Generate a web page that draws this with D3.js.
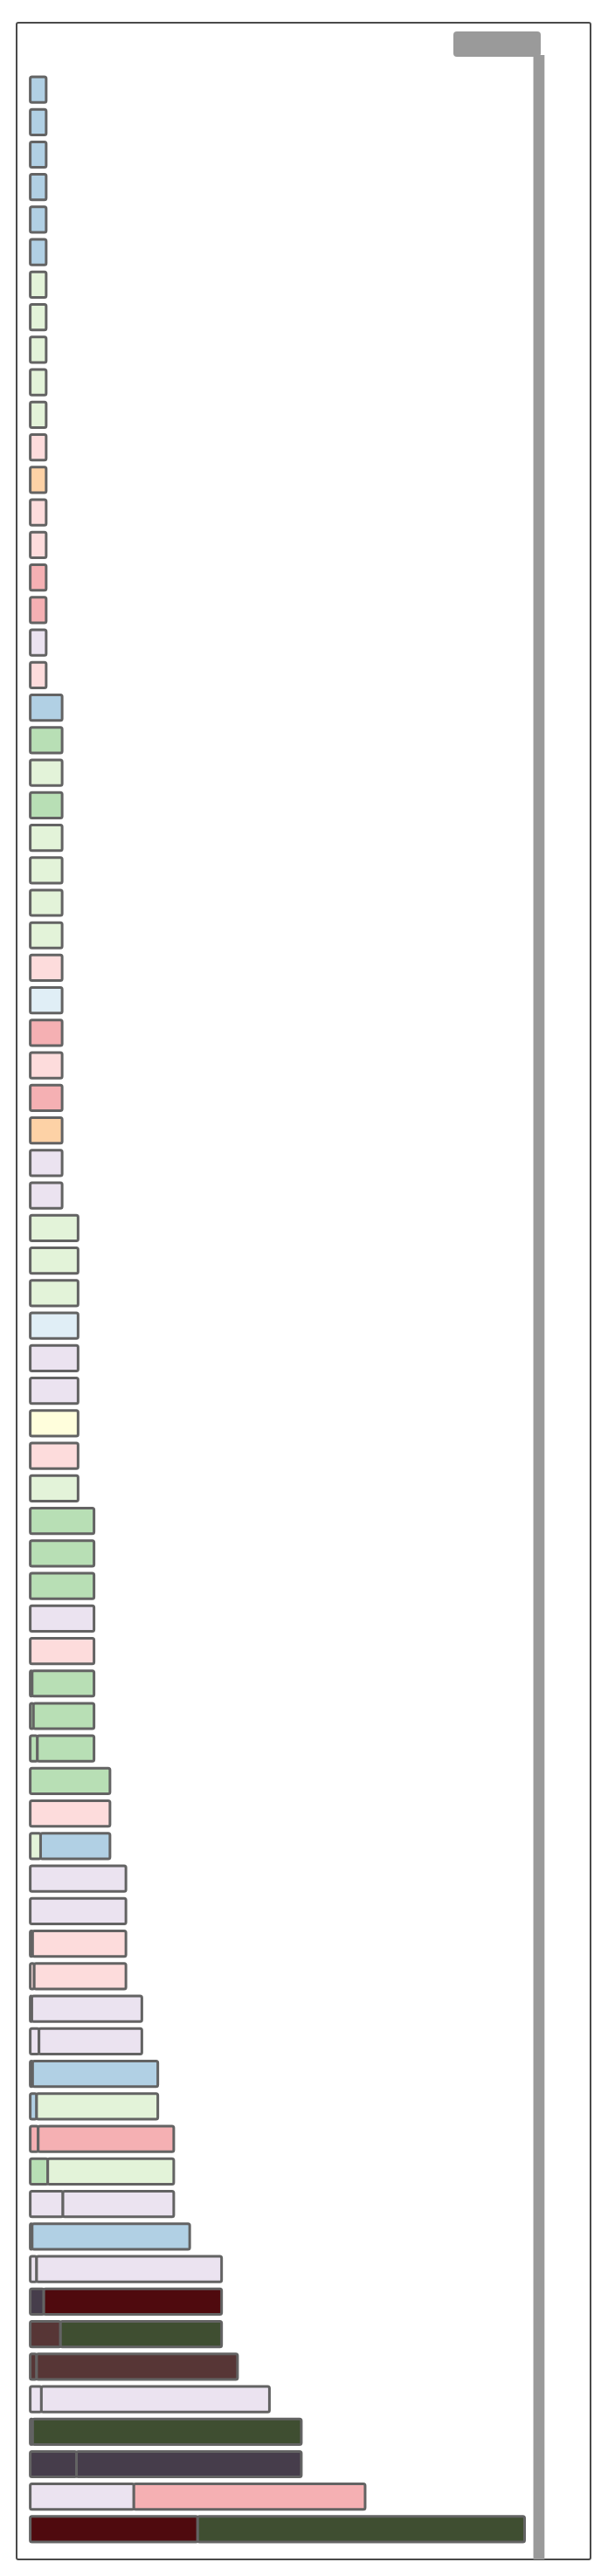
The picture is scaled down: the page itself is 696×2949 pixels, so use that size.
<!DOCTYPE html>
<html>
<head>
<meta charset="utf-8">
<script src="https://cdn.jsdelivr.net/npm/d3@7"></script>
<style>
  body { margin: 0; background: #fff; }
</style>
</head>
<body>
<div id="chart"></div>
<script>
// one row per bar, top to bottom; each bar is at most two stacked pieces
const firstPart = [
  1, 1, 1, 1, 1, 1, 1, 1, 1, 1, 1, 1, 1, 1, 1, 1, 1, 1, 1,
  2, 2, 2, 2, 2, 2, 2, 2, 2, 2, 2, 2, 2, 2, 2, 2,
  3, 3, 3, 3, 3, 3, 3, 3, 3,
  4, 4, 4, 4, 4, 0.12, 0.2, 0.45,
  5, 5, 0.65,
  6, 6, 0.15, 0.25,
  0.1, 0.55,
  0.15, 0.4,
  0.5, 1.1, 2.05,
  0.12,
  0.4, 0.85, 1.9,
  0.4,
  0.7,
  0.15, 2.9,
  6.5,
  10.5
];
const secondPart = [
  0, 0, 0, 0, 0, 0, 0, 0, 0, 0, 0, 0, 0, 0, 0, 0, 0, 0, 0,
  0, 0, 0, 0, 0, 0, 0, 0, 0, 0, 0, 0, 0, 0, 0, 0,
  0, 0, 0, 0, 0, 0, 0, 0, 0,
  0, 0, 0, 0, 0, 3.88, 3.8, 3.55,
  0, 0, 4.35,
  0, 0, 5.85, 5.75,
  6.9, 6.45,
  7.85, 7.6,
  8.5, 7.9, 6.95,
  9.88,
  11.6, 11.15, 10.1,
  12.6,
  14.3,
  16.85, 14.1,
  14.5,
  20.5
];
const firstColor = [
  "blue", "blue", "blue", "blue", "blue", "blue",
  "lgreen", "lgreen", "lgreen", "lgreen", "lgreen",
  "pink", "orange", "pink", "pink", "red", "red", "lav", "pink",
  "blue", "green", "lgreen", "green", "lgreen", "lgreen", "lgreen", "lgreen",
  "pink", "lblue", "red", "pink", "red", "orange", "lav", "lav",
  "lgreen", "lgreen", "lgreen", "lblue", "lav", "lav", "yellow", "pink", "lgreen",
  "green", "green", "green", "lav", "pink", "green", "green", "green",
  "green", "pink", "lgreen",
  "lav", "lav", "pink", "pink",
  "lav", "lav",
  "blue", "blue",
  "red", "green", "lav",
  "blue",
  "lav", "purple", "brown",
  "brown",
  "lav",
  "dkgreen", "purple",
  "lav",
  "dkred"
];
const secondColor = firstColor.map((c, i) => ({
  54: "blue", 62: "lgreen", 64: "lgreen", 68: "dkred", 69: "dkgreen",
  74: "red", 75: "dkgreen"
}[i] || c));

const colorKeys = ["blue", "lblue", "lgreen", "green", "pink", "red", "orange", "lav", "yellow", "dkred", "dkgreen", "brown", "purple"];
const colorValues = ["#b1d0e4", "#e0eef6", "#e3f3d9", "#b8dfb5", "#fddcdc", "#f5b0b3", "#fdd2a6", "#ebe3f0", "#fffedc", "#4f0a0e", "#3f4e31", "#573636", "#463d4b"];

const width = 696, height = 2949;

const rows = firstPart.map((v, i) => ({ id: i, a: v, b: secondPart[i] }));

const x = d3.scaleLinear().domain([0, 31]).range([34.6, 600.5]);
const y = d3.scaleBand()
    .domain(rows.map(d => d.id))
    .range([83.9, 2914.1])
    .paddingInner(0.215)
    .paddingOuter(0.1075);
const color = d3.scaleOrdinal().domain(colorKeys).range(colorValues);

const stacked = d3.stack().keys(["a", "b"])(rows);

const svg = d3.select("#chart").append("svg")
    .attr("width", width)
    .attr("height", height);

// outer frame
svg.append("rect")
    .attr("x", 19).attr("y", 26)
    .attr("width", 657).attr("height", 2904)
    .attr("rx", 2)
    .attr("fill", "none")
    .attr("stroke", "#4a4a4a")
    .attr("stroke-width", 2);

// grey marker at top right and its rule down the plot
svg.append("rect")
    .attr("x", 519).attr("y", 36)
    .attr("width", 100).attr("height", 29)
    .attr("rx", 4)
    .attr("fill", "#9a9a9a");
svg.append("rect")
    .attr("x", x(31.55)).attr("y", 63)
    .attr("width", x(32.25) - x(31.55)).attr("height", 2930 - 63)
    .attr("fill", "#9a9a9a");

const layer = svg.selectAll("g.layer")
    .data(stacked)
    .join("g")
    .attr("class", "layer");

layer.selectAll("rect")
    .data(s => s.filter(d => d[1] - d[0] > 0).map(d => Object.assign(d, { key: s.key })))
    .join("rect")
    .attr("x", d => x(d[0]))
    .attr("y", d => y(d.data.id))
    .attr("width", d => x(d[1]) - x(d[0]))
    .attr("height", y.bandwidth())
    .attr("rx", 2)
    .attr("fill", d => color(d.key === "a" ? firstColor[d.data.id] : secondColor[d.data.id]))
    .attr("stroke", "#636363")
    .attr("stroke-width", 3);
</script>
</body>
</html>
